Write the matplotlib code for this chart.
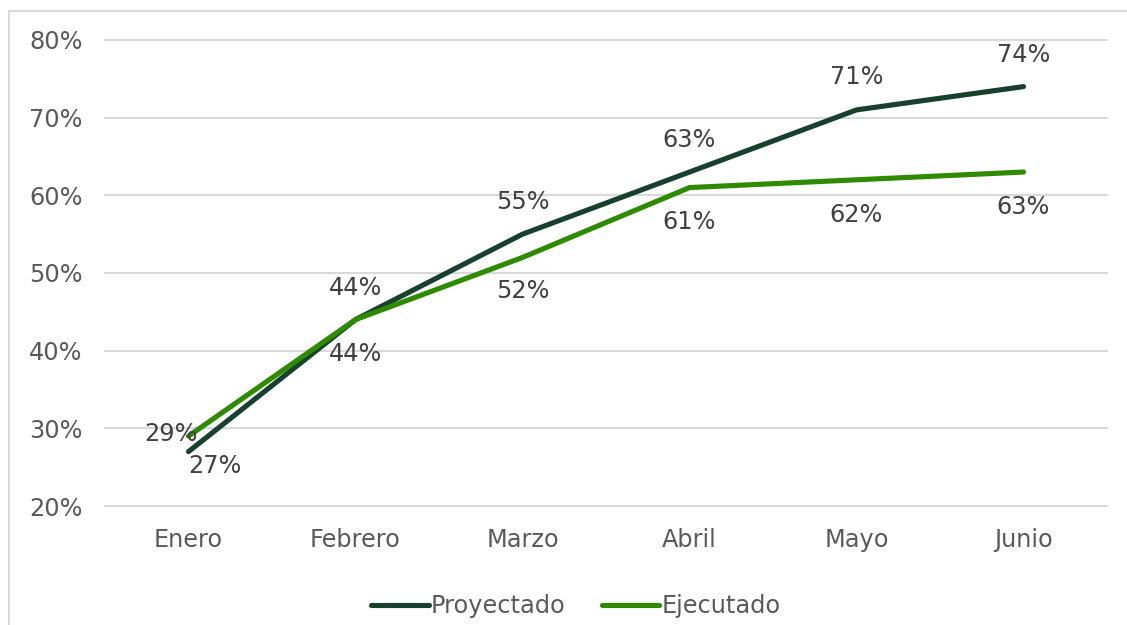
import matplotlib.pyplot as plt
from matplotlib.patches import Rectangle

months = ["Enero", "Febrero", "Marzo", "Abril", "Mayo", "Junio"]
proyectado = [27, 44, 55, 63, 71, 74]
ejecutado = [29, 44, 52, 61, 62, 63]
y_ticks = [20, 30, 40, 50, 60, 70, 80]

# label offsets in pixels
proy_offsets = [(26, -14), (0, 32), (0, 32), (0, 32), (0, 33), (0, 32)]
ejec_offsets = [(-17, 2), (0, -34), (0, -34), (0, -34), (0, -35), (0, -35)]

DARK = "#17402F"
GREEN = "#2E8B00"
TEXT = "#595959"
LABEL = "#404040"
GRID = "#D9D9D9"
FS = 17.3

plt.rcParams["font.family"] = ["DejaVu Sans"]

fig = plt.figure(figsize=(11.27, 6.25), dpi=100)
fig.patches.append(Rectangle((9 / 1127, -0.1), 1.2, 1.1 - 11 / 625,
                             transform=fig.transFigure, fill=False,
                             edgecolor=GRID, linewidth=1.5))
ax = fig.add_axes([105 / 1127, 1 - 506 / 625, (1107 - 105) / 1127, (506 - 40) / 625])

x = range(len(months))
ax.plot(x, proyectado, color=DARK, linewidth=3.7, solid_capstyle="round",
        label="Proyectado", zorder=3)
ax.plot(x, ejecutado, color=GREEN, linewidth=3.7, solid_capstyle="round",
        label="Ejecutado", zorder=3)

for i, v in enumerate(proyectado):
    ax.annotate(f"{v}%", (i, v), xytext=proy_offsets[i], textcoords="offset pixels",
                ha="center", va="center", fontsize=FS, color=LABEL)
for i, v in enumerate(ejecutado):
    ax.annotate(f"{v}%", (i, v), xytext=ejec_offsets[i], textcoords="offset pixels",
                ha="center", va="center", fontsize=FS, color=LABEL)

ax.set_xlim(-0.5, len(months) - 0.5)
ax.set_ylim(20, 80)
ax.set_yticks(y_ticks)
ax.set_yticklabels([f"{t}%" for t in y_ticks])
ax.set_xticks(list(x))
ax.set_xticklabels(months)
ax.tick_params(axis="both", length=0, labelsize=FS, labelcolor=TEXT)
ax.tick_params(axis="y", pad=16)
ax.tick_params(axis="x", pad=16)
ax.grid(axis="y", color=GRID, linewidth=1.5)
for line in ax.get_ygridlines():
    line.set_clip_on(False)
ax.set_axisbelow(True)
for spine in ax.spines.values():
    spine.set_visible(False)

fig.legend(loc="center", bbox_to_anchor=(576 / 1127, 1 - 606 / 625), ncol=2,
           frameon=False, fontsize=FS, labelcolor=TEXT, handlelength=2.4,
           handletextpad=0.1, columnspacing=1.5)

fig.savefig("out.png", dpi=100)
